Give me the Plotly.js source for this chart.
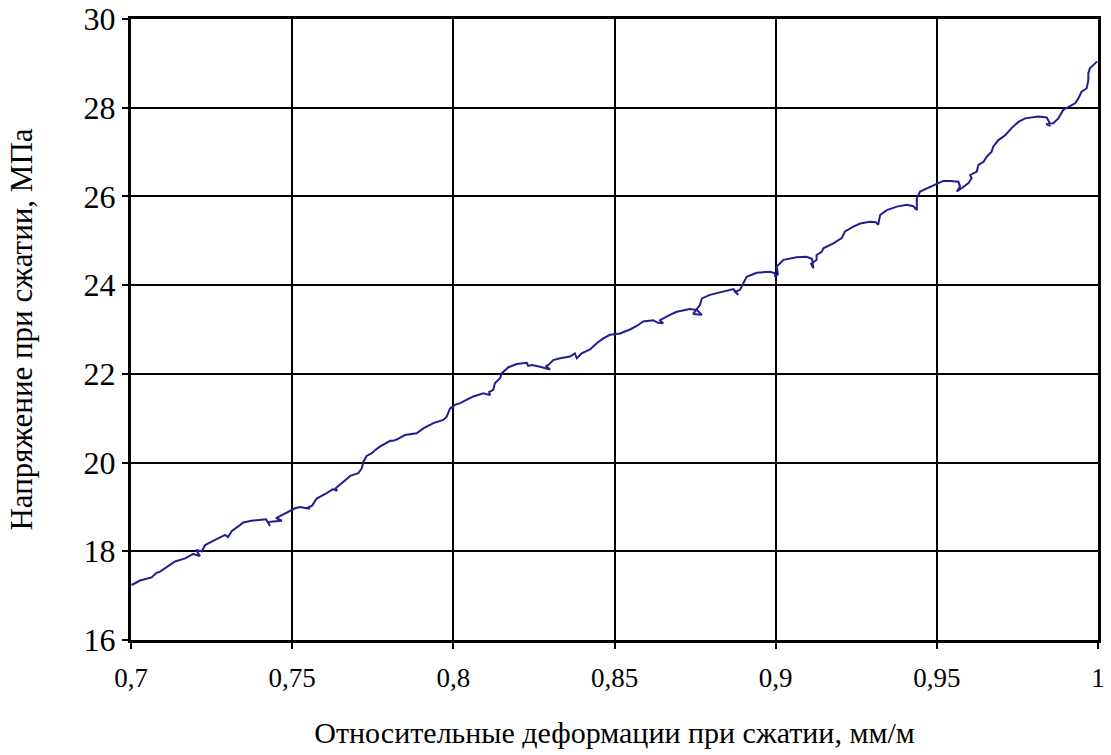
<!DOCTYPE html>
<html>
<head>
<meta charset="utf-8">
<script src="https://cdn.plot.ly/plotly-3.0.1.min.js"></script>
<style>html,body{margin:0;padding:0;background:#fff;}#chart{width:1111px;height:755px;}</style>
</head>
<body>
<div id="chart"></div>
<script>
// Strain, mm/m
const strain = [
0.7002,0.7028,0.7064,0.7078,0.7090,0.7111,0.7137,0.7168,0.7193,0.7214,0.7202,0.7220,
0.7230,0.7250,0.7292,0.7301,0.7313,0.7338,0.7348,0.7374,0.7405,0.7419,0.7431,0.7425,
0.7441,0.7468,0.7450,0.7468,0.7488,0.7509,0.7524,
0.7535,0.7555,0.7545,0.7562,0.7576,0.7607,0.7627,0.7639,0.7635,0.7659,0.7680,0.7705,
0.7716,0.7721,0.7731,0.7747,0.7757,0.7772,0.7804,0.7813,0.7824,0.7850,0.7886,0.7907,
0.7938,0.7969,0.7979,0.7990,0.8005,0.8021,
0.8062,0.8093,0.8114,0.8111,0.8124,0.8129,0.8145,0.8150,0.8171,0.8197,0.8228,0.8232,
0.8244,0.8269,0.8300,0.8287,0.8295,0.8310,0.8331,0.8362,0.8377,0.8383,0.8398,0.8424,
0.8445,0.8465,0.8486,0.8517,
0.8548,0.8569,0.8589,0.8620,0.8635,0.8651,0.8641,0.8672,0.8693,0.8734,0.8756,0.8771,
0.8744,0.8765,0.8771,0.8796,0.8838,0.8869,0.8884,0.8874,0.8889,0.8900,0.8910,0.8941,
0.8982,0.8998,0.8998,0.9007,0.9003,0.9013,
0.9024,0.9065,0.9096,0.9113,0.9117,0.9110,0.9127,0.9127,0.9143,0.9148,0.9179,0.9205,
0.9215,0.9241,0.9262,0.9293,0.9311,0.9318,0.9324,0.9345,0.9376,0.9407,0.9427,0.9438,
0.9438,0.9448,0.9469,0.9500,0.9520,0.9541,
0.9567,0.9572,0.9562,0.9578,0.9598,0.9608,0.9603,0.9624,0.9629,0.9645,0.9655,0.9670,
0.9675,0.9691,0.9712,0.9732,0.9753,0.9774,0.9815,0.9841,0.9848,0.9851,0.9839,0.9861,
0.9877,0.9892,0.9908,0.9929,0.9939,0.9949,0.9965,0.9970,0.9970,0.9975,0.9991,0.9997
];
// Stress, MPa
const stress = [
17.24,17.34,17.41,17.51,17.54,17.64,17.77,17.84,17.94,17.89,18.03,18.00,
18.14,18.22,18.37,18.32,18.46,18.59,18.65,18.69,18.72,18.72,18.57,18.66,
18.67,18.69,18.75,18.82,18.89,18.97,19.00,
18.99,18.96,18.97,19.03,19.19,19.31,19.40,19.36,19.42,19.57,19.70,19.76,
19.87,20.02,20.15,20.21,20.28,20.36,20.49,20.49,20.52,20.62,20.66,20.77,
20.89,20.96,21.03,21.22,21.30,21.34,
21.49,21.56,21.52,21.59,21.64,21.79,21.90,22.01,22.15,22.22,22.25,22.18,
22.20,22.16,22.10,22.18,22.20,22.31,22.35,22.39,22.46,22.35,22.46,22.55,
22.69,22.80,22.88,22.91,
23.00,23.08,23.18,23.21,23.15,23.14,23.21,23.33,23.40,23.46,23.44,23.33,
23.35,23.55,23.70,23.78,23.85,23.91,23.78,23.85,23.89,24.04,24.19,24.28,
24.30,24.27,24.19,24.25,24.42,24.49,
24.57,24.63,24.64,24.59,24.38,24.48,24.57,24.68,24.75,24.83,24.94,25.06,
25.21,25.32,25.39,25.43,25.42,25.36,25.58,25.69,25.77,25.81,25.78,25.69,
25.96,26.11,26.18,26.30,26.35,26.35,
26.33,26.22,26.11,26.19,26.30,26.41,26.48,26.56,26.71,26.78,26.90,27.01,
27.12,27.27,27.38,27.54,27.68,27.76,27.80,27.78,27.68,27.59,27.63,27.65,
27.76,27.95,28.02,28.10,28.21,28.36,28.44,28.62,28.78,28.89,29.00,29.04
];
const xTickVals = [0.7,0.75,0.8,0.85,0.9,0.95,1];
const xTickText = ["0,7","0,75","0,8","0,85","0,9","0,95","1"];
const yTickVals = [16,18,20,22,24,26,28,30];
const yTickText = ["16","18","20","22","24","26","28","30"];
const xTitle = "Относительные деформации при сжатии, мм/м";
const yTitle = "Напряжение при сжатии, МПа";

const serif = "Liberation Serif";
Plotly.newPlot("chart", [{
  x: strain, y: stress, type: "scatter", mode: "lines",
  line: {color: "#1f1f90", width: 2, shape: "linear"},
  hoverinfo: "skip", showlegend: false
}], {
  width: 1111, height: 755,
  margin: {l: 131, r: 13, t: 19, b: 115},
  paper_bgcolor: "#fff", plot_bgcolor: "#fff",
  font: {family: serif, color: "#000"},
  xaxis: {
    range: [0.7, 1], tickvals: xTickVals, ticktext: xTickText,
    showgrid: true, gridcolor: "#000", gridwidth: 2,
    showline: true, linecolor: "#000", linewidth: 3, mirror: true,
    ticks: "outside", ticklen: 6, tickwidth: 2, tickcolor: "#000",
    ticklabelstandoff: 6,
    tickfont: {family: serif, size: 27, color: "#000"},
    zeroline: false,
    title: {text: xTitle, font: {family: serif, size: 30, color: "#000"}, standoff: 30}
  },
  yaxis: {
    range: [16, 30], tickvals: yTickVals, ticktext: yTickText,
    showgrid: true, gridcolor: "#000", gridwidth: 2,
    showline: true, linecolor: "#000", linewidth: 3, mirror: true,
    ticks: "outside", ticklen: 6, tickwidth: 2, tickcolor: "#000",
    tickfont: {family: serif, size: 32, color: "#000"},
    zeroline: false,
    title: {text: yTitle, font: {family: serif, size: 31, color: "#000"}, standoff: 42}
  }
}, {displayModeBar: false, staticPlot: true});
</script>
</body>
</html>
